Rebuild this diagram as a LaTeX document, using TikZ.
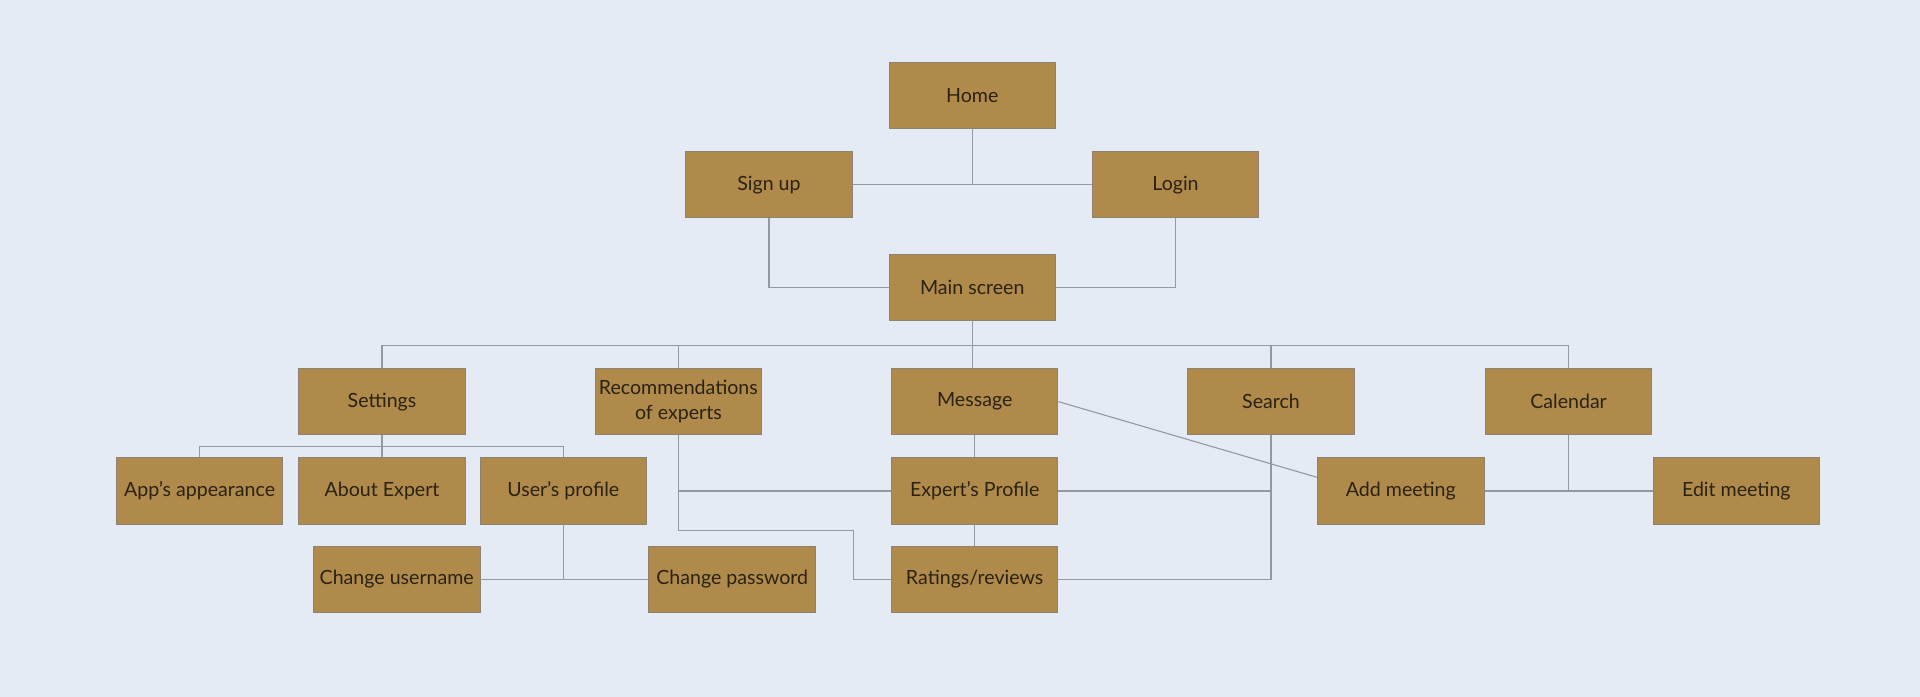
\documentclass[tikz,border=0pt]{standalone}
\usepackage{fontspec}
\setmainfont{Lato}
\usetikzlibrary{calc}
\definecolor{bgc}{HTML}{E4EBF5}
\definecolor{boxc}{HTML}{B08A4B}
\definecolor{boxd}{HTML}{8C8374}
\definecolor{linec}{HTML}{9299A3}
\definecolor{txtc}{HTML}{2A2212}
\tikzset{
  box/.style={rectangle, draw=boxd, line width=0.8pt, fill=boxc, minimum width=136pt, minimum height=54pt, inner sep=0pt, text=txtc, align=center, font=\fontsize{16}{20}\selectfont},
  conn/.style={draw=linec, line width=0.9pt},
}
\begin{document}
\begin{tikzpicture}[x=1pt,y=-1pt]
\fill[bgc] (0,0) rectangle (1568,569);
\useasboundingbox (0,0) rectangle (1568,569);
% nodes
\node[box] (home) at (794,78) {Home};
\node[box] (signup) at (628,151) {Sign up};
\node[box] (login) at (960,151) {Login};
\node[box] (main) at (794,235) {Main screen};
\node[box] (settings) at (312,328) {Settings};
\node[box] (recom) at (554,328) {Recommendations\\of experts};
\node[box] (msg) at (796,328) {Message};
\node[box] (search) at (1038,328) {Search};
\node[box] (cal) at (1281,328) {Calendar};
\node[box] (app) at (163,401) {App’s appearance};
\node[box] (about) at (312,401) {About Expert};
\node[box] (user) at (460,401) {User’s profile};
\node[box] (exprof) at (796,401) {Expert’s Profile};
\node[box] (addm) at (1144,401) {Add meeting};
\node[box] (editm) at (1418,401) {Edit meeting};
\node[box] (cuser) at (324,473) {Change username};
\node[box] (cpass) at (598,473) {Change password};
\node[box] (rate) at (796,473) {Ratings/reviews};
% coordinates
\coordinate (bus) at (794,282);
\coordinate (sbus) at (312,365);
\coordinate (rbend) at (697,433);
\coordinate (addin) at ($(addm.north west)!0.296!(addm.south west)$);
\begin{scope}[on background layer/.try]
\end{scope}
% connectors
\path[conn] (home.south) -- (home.south |- signup.east);
\path[conn] (signup.east) -- (login.west);
\path[conn] (signup.south) |- (main.west);
\path[conn] (login.south) |- (main.east);
\path[conn] (main.south) -- (bus);
\path[conn] (settings.north) |- (bus) -| (cal.north);
\path[conn] (recom.north) -- (recom.north |- bus);
\path[conn] (main.south |- bus) -- (main.south |- msg.north);
\path[conn] (search.north) -- (search.north |- bus);
\path[conn] (settings.south) -- (sbus);
\path[conn] (app.north) |- (sbus) -| (user.north);
\path[conn] (about.north) -- (sbus);
\path[conn] (user.south) -- (user.south |- cuser.east);
\path[conn] (cuser.east) -- (cpass.west);
\path[conn] (recom.south) |- (exprof.west);
\path[conn] (recom.south) |- (rbend) |- (rate.west);
\path[conn] (msg.south) -- (exprof.north);
\path[conn] (exprof.south) -- (rate.north);
\path[conn] (msg.east) -- (addin);
\path[conn] (search.south) |- (rate.east);
\path[conn] (exprof.east) -- (exprof.east -| search.south);
\path[conn] (cal.south) -- (cal.south |- addm.east);
\path[conn] (addm.east) -- (editm.west);
\end{tikzpicture}
\end{document}
